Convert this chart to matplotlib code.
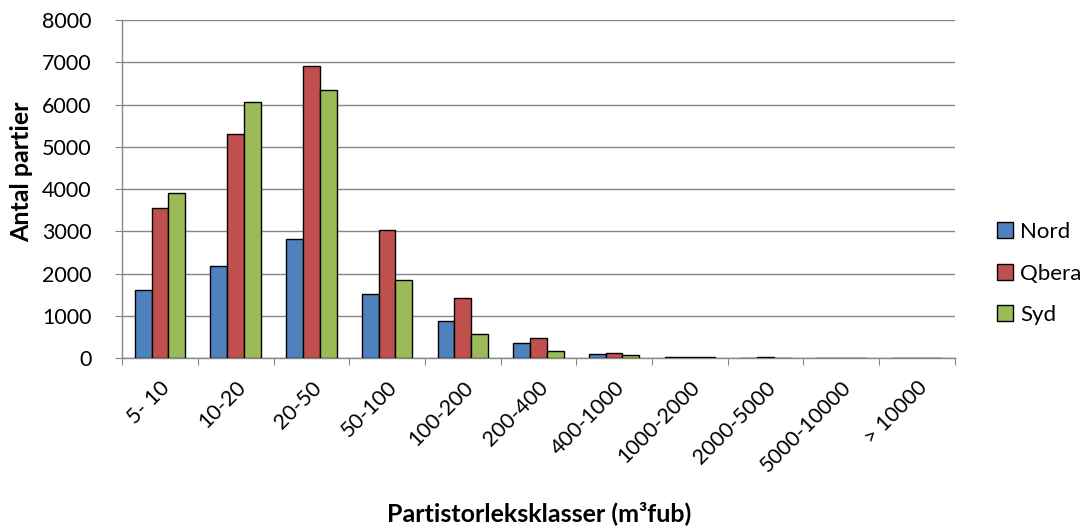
import matplotlib
matplotlib.use("Agg")
import matplotlib.pyplot as plt
import numpy as np

plt.rcParams['font.family'] = ['Lato', 'DejaVu Sans']

categories = ["5- 10", "10-20", "20-50", "50-100", "100-200", "200-400",
              "400-1000", "1000-2000", "2000-5000", "5000-10000", "> 10000"]
nord = [1600, 2190, 2820, 1520, 880, 350, 100, 20, 10, 5, 3]
qbera = [3560, 5300, 6920, 3030, 1420, 470, 130, 25, 20, 8, 5]
syd = [3900, 6050, 6340, 1840, 570, 160, 60, 15, 8, 3, 2]
series_names = ["Nord", "Qbera", "Syd"]
colors = ["#4F81BD", "#C0504D", "#9BBB59"]

fig = plt.figure(figsize=(10.91, 5.30), dpi=100)
ax = fig.add_axes([0.112, 0.3245, 0.763, 0.6375])

x = np.arange(len(categories))
w = 1 / 4.5
for i, (vals, name, c) in enumerate(zip([nord, qbera, syd], series_names, colors)):
    ax.bar(x + (i - 1) * w, vals, width=w, color=c, edgecolor="black",
           linewidth=1.0, label=name, zorder=3)

ax.set_xlim(-0.5, len(categories) - 0.5)
ax.set_ylim(0, 8000)
ax.set_yticks(np.arange(0, 8001, 1000))
ax.yaxis.grid(True, color="#868686", linewidth=1.0, zorder=0)
ax.set_axisbelow(True)

ax.set_xticks(np.arange(-0.5, len(categories)), minor=False)
ax.set_xticklabels([])
ax.set_xticks(x, minor=True)
ax.set_xticklabels(categories, minor=True, rotation=45, ha="right",
                   rotation_mode="anchor", fontsize=15.5)
ax.tick_params(axis="x", which="minor", length=0, pad=14)
ax.tick_params(axis="x", which="major", length=5, color="#868686", direction="out")
ax.tick_params(axis="y", length=5, color="#868686", direction="out", labelsize=15.5, pad=17)

for s in ["top", "right"]:
    ax.spines[s].set_visible(False)
for s in ["left", "bottom"]:
    ax.spines[s].set_color("#868686")
    ax.spines[s].set_linewidth(1.0)

fig.text(22 / 1091, 1 - 172 / 530, "Antal partier", rotation=90, ha="center", va="center",
         fontsize=18, fontweight="bold")
fig.text(539 / 1091, 1 - 513 / 530, "Partistorleksklasser (m³fub)", ha="center", va="center",
         fontsize=18, fontweight="bold")

leg = ax.legend(loc="center left", bbox_to_anchor=(1.04, 0.25), frameon=False,
                fontsize=16, handlelength=0.75, handleheight=0.75, handletextpad=0.3,
                labelspacing=0.97, borderaxespad=0)

fig.savefig("out.png", dpi=100)
